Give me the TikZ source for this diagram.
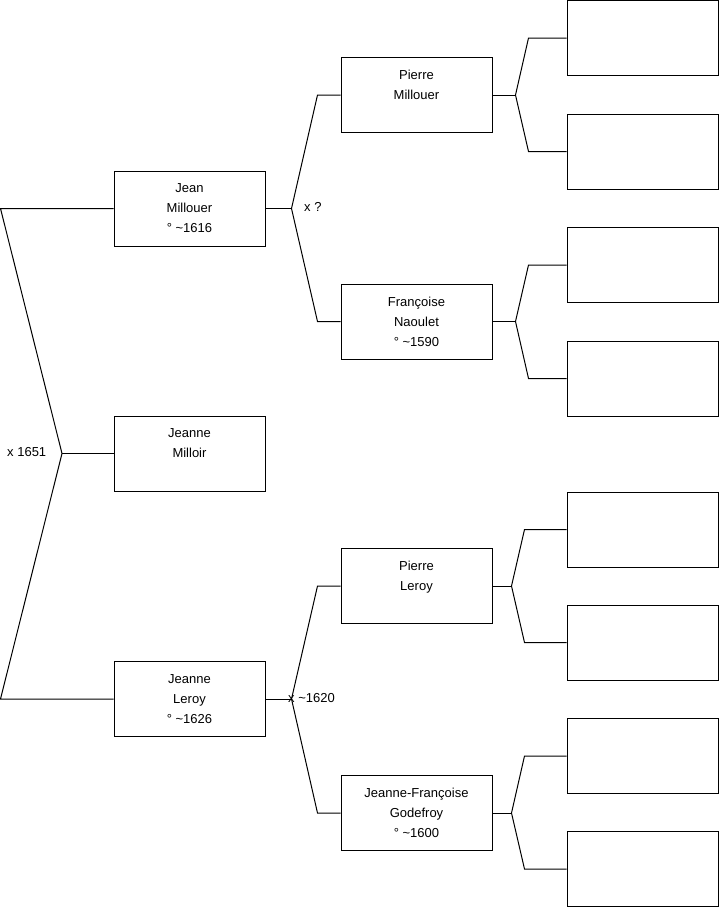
\documentclass[tikz,border=0pt]{standalone}
\usepackage{fontspec}
\setmainfont{Liberation Sans}
\begin{document}
\begin{tikzpicture}[x=1pt,y=-1pt,
  person/.style={draw,line width=1pt,minimum width=151pt,minimum height=75pt,inner sep=0pt,align=center,font=\fontsize{13}{20}\selectfont},
  link/.style={draw,line width=1pt},
  note/.style={anchor=west,inner sep=0pt,font=\fontsize{13}{16}\selectfont}]
\useasboundingbox (0,0) rectangle (719,908);
\node[person] (milloir) at (189.5,453.5) {Jeanne\\Milloir\\\mbox{}};
\node[person] (jean) at (189.5,208.5) {Jean\\Millouer\\° \textasciitilde1616};
\node[person] (leroyj) at (189.5,699) {Jeanne\\Leroy\\° \textasciitilde1626};
\node[person] (pierrem) at (416.5,95) {Pierre\\Millouer\\\mbox{}};
\node[person] (francoise) at (416.5,321.5) {Françoise\\Naoulet\\° \textasciitilde1590};
\node[person] (pierrel) at (416.5,586) {Pierre\\Leroy\\\mbox{}};
\node[person] (godefroy) at (416.5,813) {Jeanne-Françoise\\Godefroy\\° \textasciitilde1600};
\foreach \y [count=\i] in {38,151.5,265,378.5,529.5,642.5,756,869} \node[person] (g\i) at (642.5,\y) {};
\coordinate (fm) at (62,453.5);
\draw[link] (milloir.west) -- (fm);
\draw[link] (jean.west) -- ++(-113,0) -- (fm) -- ([xshift=-113pt]leroyj.west) -- (leroyj.west);
\node[note] (m1) at (7,452) {x 1651};
\draw[link] (jean.east) -- ++(26,0) coordinate (fj);
\draw[link] (pierrem.west) -- ++(-23,0) -- (fj) -- ([xshift=-23pt]francoise.west) -- (francoise.west);
\node[note] (m2) at (304,207) {x ?};
\draw[link] (leroyj.east) -- ++(26,0) coordinate (fl);
\draw[link] (pierrel.west) -- ++(-23,0) -- (fl) -- ([xshift=-23pt]godefroy.west) -- (godefroy.west);
\node[note] (m3) at (288,698) {x \textasciitilde1620};
\foreach \p/\a/\b/\d/\e in {pierrem/g1/g2/23/38, francoise/g3/g4/23/38, pierrel/g5/g6/19/42, godefroy/g7/g8/19/42} {
  \draw[link] (\p.east) -- ++(\d,0) coordinate (f\p);
  \draw[link] (\a.west) -- ++(-\e,0) -- (f\p) -- ([xshift=-\e pt]\b.west) -- (\b.west);
}
\end{tikzpicture}
\end{document}
